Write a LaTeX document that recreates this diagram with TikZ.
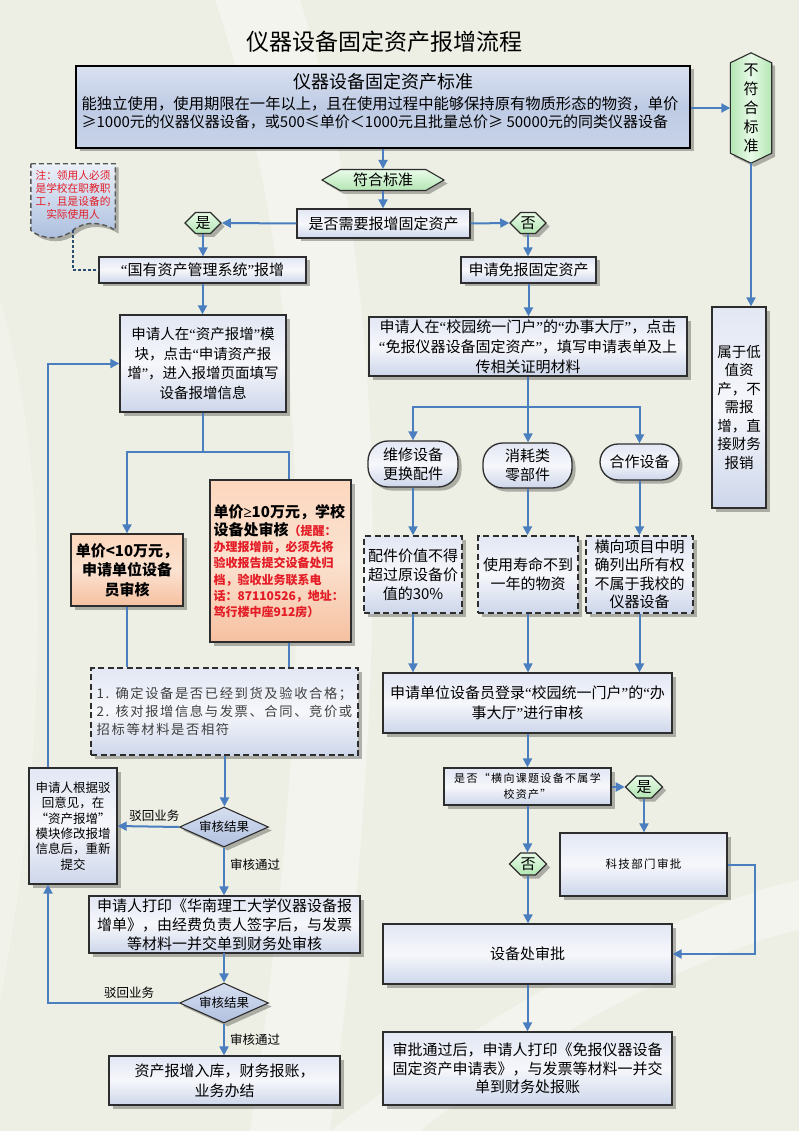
\documentclass[tikz,border=0pt]{standalone}
\usepackage{fontspec}
\setmainfont{Noto Sans CJK SC}
\newfontfamily\spfont{Noto Sans CJK SC}[LetterSpace=12]
\newfontfamily\lat{Liberation Serif}
\newcommand{\zqo}{{\lat “}}
\newcommand{\zqc}{{\lat ”}}
\usetikzlibrary{shapes.geometric,shapes.symbols,shadows,arrows.meta,calc}
\newcommand{\setfs}[2]{\fontsize{#1}{#2}\selectfont}
\pgfdeclarelayer{back}
\pgfdeclarelayer{shapes}
\pgfsetlayers{back,shapes,main}
\definecolor{bg}{RGB}{237,239,228}
\definecolor{boxtop}{RGB}{226,231,244}
\definecolor{boxmid}{RGB}{246,247,251}
\definecolor{boxbot}{RGB}{205,214,234}
\definecolor{boxborder}{RGB}{45,45,45}
\definecolor{flowc}{RGB}{74,126,190}
\definecolor{greentop}{RGB}{232,250,232}
\definecolor{greenbot}{RGB}{180,230,180}
\definecolor{orgtop}{RGB}{252,215,190}
\definecolor{orgmid}{RGB}{251,226,208}
\definecolor{orgbot}{RGB}{246,192,160}
\definecolor{redtxt}{RGB}{228,28,38}
\definecolor{stdtop}{RGB}{218,226,241}
\definecolor{stdmid}{RGB}{190,203,228}
\definecolor{stdbot}{RGB}{200,211,233}
\definecolor{diatop}{RGB}{215,223,240}
\definecolor{diabot}{RGB}{176,192,224}
\definecolor{notetop}{RGB}{235,240,248}
\definecolor{notebot}{RGB}{170,190,222}
\tikzset{
 shd/.style={drop shadow={shadow xshift=3.5pt, shadow yshift=-3.5pt, opacity=0.28, fill=black}},
 bx/.style={draw=boxborder, line width=1.3pt, top color=boxtop, bottom color=boxbot, middle color=boxmid, shd, inner sep=0pt, align=center, font=\setfs{15}{19.5}},
 dbx/.style={bx, dash pattern=on 6pt off 3.5pt, line width=1.5pt},
 obx/.style={bx, top color=orgtop, bottom color=orgbot, middle color=orgmid},
 ovl/.style={bx, rounded corners=20pt},
 hexh/.style={shape=signal, signal to=west and east, signal pointer angle=90, draw=boxborder, line width=1.1pt, top color=greentop, bottom color=greenbot, shd, inner sep=0pt, font=\setfs{15}{18}},
 hexframe/.style={draw=boxborder, line width=1.1pt, left color=greenbot, right color=greenbot, middle color=greentop, shd},
 dia/.style={shape=diamond, aspect=2.2, draw=boxborder, line width=1.1pt, top color=diatop, bottom color=diabot, shd, inner sep=0pt, minimum width=89pt, minimum height=40pt, font=\setfs{12.5}{14}},
 flow/.style={draw=flowc, line width=2pt, -{Triangle[length=9pt,width=9pt]}},
 plain/.style={draw=flowc, line width=2pt},
 notelink/.style={draw=flowc!60!black, line width=1.5pt, dash pattern=on 3pt off 2pt},
 lbl/.style={inner sep=0pt, font=\setfs{12.5}{14}},
 txt/.style={inner sep=0pt, align=center},
}
\begin{document}
\begin{tikzpicture}[x=1pt,y=-1pt]
\useasboundingbox (0,0) rectangle (799,1131);
\begin{pgfonlayer}{back}
\fill[bg] (0,0) rectangle (799,1131);
\fill[white, opacity=0.35] (215,0) .. controls (300,250) and (330,600) .. (250,1131) -- (330,1131) .. controls (400,600) and (380,250) .. (300,0) -- cycle;
\fill[white, opacity=0.35] (330,1131) .. controls (500,1000) and (700,900) .. (799,880) -- (799,930) .. controls (700,950) and (520,1050) .. (420,1131) -- cycle;
\fill[white, opacity=0.25] (0,300) .. controls (60,500) and (40,800) .. (0,1000) -- cycle;
\end{pgfonlayer}

% title
\node[txt, font=\setfs{23}{27}] (title) at (384,42) {仪器设备固定资产报增流程};

% standard box
\node[bx, draw=black, line width=2.5pt, top color=stdtop, bottom color=stdbot, middle color=stdmid, minimum width=614pt, minimum height=82pt] (std) at (383,107) {};
\node[txt, font=\setfs{18}{22}] (stdhead) at (383,82) {仪器设备固定资产标准};
\node[txt, align=left, font=\setfs{15.3}{18.5}] (stdbody) at (380,113) {能独立使用，使用期限在一年以上，且在使用过程中能够保持原有物质形态的物资，单价\\{\setfs{15}{18.5}≥1000元的仪器仪器设备，或500≤单价＜1000元且批量总价≥ 50000元的同类仪器设备}};

% not meeting standard (vertical hexagon)
\node[txt, minimum width=41pt, minimum height=110pt, font=\setfs{15}{19}] (nomeet) at (751,108) {不\\符\\合\\标\\准};
\begin{pgfonlayer}{shapes}
\path[hexframe] (nomeet.north) -- ([yshift=-10pt]nomeet.north east) -- ([yshift=10pt]nomeet.south east) -- (nomeet.south) -- ([yshift=10pt]nomeet.south west) -- ([yshift=-10pt]nomeet.north west) -- cycle;
\end{pgfonlayer}
\node[bx, minimum width=54pt, minimum height=201pt, font=\setfs{14.5}{18.5}] (lowval) at (739,407.5) {属于低\\值资\\产，不\\需报\\增，直\\接财务\\报销};

% meet standard
\node[hexh, signal pointer angle=60, minimum width=122pt, minimum height=21pt] (meet) at (383,180) {符合标准};
\node[bx, minimum width=173pt, minimum height=29pt] (need) at (383.5,223.5) {是否需要报增固定资产};
\node[hexh, minimum width=34pt, minimum height=21pt] (yes1) at (203,223) {是};
\node[hexh, minimum width=33pt, minimum height=21pt] (no1) at (528,223) {否};

% note
\node[txt, minimum width=84pt, minimum height=62pt, text=redtxt, font=\setfs{10.7}{12.8}] (note) at (73,195) {注：领用人必须\\是学校在职教职\\工，且是设备的\\实际使用人};
\begin{pgfonlayer}{shapes}
\path[draw=boxborder!80, line width=1.4pt, dash pattern=on 5pt off 3pt, top color=notetop, bottom color=notebot, shd]
  (note.north west) -- (note.north east) -- ($(note.south east)+(0,4)$)
  .. controls ($(note.south east)+(-12,-4)$) and ($(note.south east)+(-30,-6)$) .. ($(note.south)+(0,4)$)
  .. controls ($(note.south)+(-11,14)$) and ($(note.south)+(-31,14)$) .. ($(note.south west)+(0,4)$) -- cycle;
\end{pgfonlayer}

% left branch
\node[bx, minimum width=207pt, minimum height=26pt] (guoyou) at (202.5,270) {\zqo 国有资产管理系统\zqc 报增};
\node[bx, minimum width=166pt, minimum height=97pt, font=\setfs{14.5}{19.5}] (left1) at (203,363.5) {申请人在\zqo 资产报增\zqc 模\\块，点击\zqo 申请资产报\\增\zqc ，进入报增页面填写\\设备报增信息};
\node[obx, minimum width=112pt, minimum height=72pt, font=\bfseries\setfs{15}{19.5}] (orange1) at (127,570) {单价<10万元，\\申请单位设备\\员审核};
\node[obx, minimum width=141pt, minimum height=162pt] (orange2) at (280.5,561) {};
\node[txt, align=left, text width=137pt, font=\bfseries\setfs{12}{16.3}] (orange2txt) at (282,561.5) {{\setfs{15}{19}单价{\lat ≥}10万元，学校}\\[1pt]{\setfs{15}{19}设备处审核}{\color{redtxt}（提醒：\\办理报增前，必须先将\\验收报告提交设备处归\\档，验收业务联系电\\话：87110526，地址：\\笃行楼中座912房）}};
\node[dbx, minimum width=267pt, minimum height=87pt, align=left, text=black!75, font=\spfont\setfs{13.3}{18}] (check) at (224.5,711.5) {1. 确定设备是否已经到货及验收合格；\\2. 核对报增信息与发票、合同、竞价或\\招标等材料是否相符\hspace*{98pt}};
\node[dia] (dia1) at (224,827) {审核结果};
\node[bx, minimum width=88pt, minimum height=116pt, font=\setfs{12.5}{15.4}] (resub) at (73,826) {申请人根据驳\\回意见，在\\“资产报增”\\模块修改报增\\信息后，重新\\提交};
\node[bx, minimum width=271pt, minimum height=57pt, font=\setfs{15}{18.8}] (print) at (224.5,924.5) {申请人打印《华南理工大学仪器设备报\\增单》，由经费负责人签字后，与发票\\等材料一并交单到财务处审核};
\node[dia] (dia2) at (224,1003) {审核结果};
\node[bx, minimum width=231pt, minimum height=49pt, font=\setfs{15}{20}] (final1) at (224.5,1080.5) {资产报增入库，财务报账，\\业务办结};

% right branch
\node[bx, minimum width=135pt, minimum height=26pt] (mianbao) at (528.5,270) {申请免报固定资产};
\node[bx, minimum width=318pt, minimum height=59pt, font=\setfs{15}{20}] (xiaoyuan) at (528,346.5) {申请人在\zqo 校园统一门户\zqc 的\zqo 办事大厅\zqc ，点击\\\zqo 免报仪器设备固定资产\zqc ，填写申请表单及上\\传相关证明材料};
\node[ovl, minimum width=90pt, minimum height=46pt, font=\setfs{15}{19}] (e1) at (413,464) {维修设备\\更换配件};
\node[ovl, minimum width=89pt, minimum height=45pt, font=\setfs{15}{19}] (e2) at (527.5,465.5) {消耗类\\零部件};
\node[ovl, rounded corners=18pt, minimum width=79pt, minimum height=36pt] (e3) at (639.5,462) {合作设备};
\node[dbx, minimum width=98pt, minimum height=77pt, font=\setfs{15}{19}] (d1) at (413,574.5) {配件价值不得\\超过原设备价\\值的30\%};
\node[dbx, minimum width=100pt, minimum height=77pt, font=\setfs{15}{19}] (d2) at (528,574.5) {使用寿命不到\\一年的物资};
\node[dbx, minimum width=107pt, minimum height=77pt, font=\setfs{15}{18.5}] (d3) at (639.5,574.5) {横向项目中明\\确列出所有权\\不属于我校的\\仪器设备};
\node[bx, minimum width=289pt, minimum height=60pt, font=\setfs{15}{19.5}] (login) at (527.5,703) {申请单位设备员登录\zqo 校园统一门户\zqc 的\zqo 办\\事大厅\zqc 进行审核};
\node[bx, minimum width=167pt, minimum height=37pt, font=\spfont\setfs{11}{16}] (hx) at (527.5,786.5) {是否“横向课题设备不属学\\校资产”};
\node[hexh, minimum width=32pt, minimum height=22pt] (yes2) at (644,787) {是};
\node[bx, minimum width=167pt, minimum height=63pt, font=\spfont\setfs{11.5}{14}] (keji) at (643.5,864.5) {科技部门审批};
\node[hexh, minimum width=33pt, minimum height=22pt] (no2) at (528,864) {否};
\node[bx, minimum width=289pt, minimum height=60pt, font=\setfs{15}{19}] (sbc) at (527.5,954) {设备处审批};
\node[bx, minimum width=289pt, minimum height=73pt, font=\setfs{15}{18.7}] (final2) at (527.5,1068.5) {审批通过后，申请人打印《免报仪器设备\\固定资产申请表》，与发票等材料一并交\\单到财务处报账};

% coordinates
\coordinate (split1) at (203,452);
\coordinate (split2) at (528,407);

% connectors top
\draw[flow] (std.east |- nomeet.west) -- (nomeet.west);
\draw[flow] (nomeet.south) -- (nomeet.south |- lowval.north);
\draw[flow] (std.south) -- (meet.north);
\draw[flow] (meet.south) -- (meet.south |- need.north);
\draw[flow] (need.west) -- (yes1.east);
\draw[flow] (need.east) -- (no1.west);
\draw[flow] (yes1.south) -- (yes1.south |- guoyou.north);
\draw[flow] (no1.south) -- (no1.south |- mianbao.north);
\draw[notelink] ($(note.south)+(0,4)$) |- (guoyou.west);

% left connectors
\draw[flow] (guoyou.south) -- (guoyou.south |- left1.north);
\draw[plain] (left1.south) -- (split1);
\draw[flow] (split1) -| (orange1.north);
\draw[plain] (split1) -| ([xshift=8.5pt]orange2.north);
\draw[plain] (orange1.south) -- (orange1.south |- check.north);
\draw[plain] ([xshift=8.5pt]orange2.south) -- ([xshift=8.5pt]orange2.south |- check.north);
\draw[flow] (check.south) -- (check.south |- dia1.north);
\draw[flow] (dia1.west) -- (resub.east) node[lbl, pos=0.4, above=4pt] {驳回业务};
\draw[flow] (dia1.south) -- (dia1.south |- print.north) node[lbl, pos=0.35, right=5pt] {审核通过};
\draw[flow] (print.south) -- (print.south -| dia2.north) -- (dia2.north);
\draw[flow] (dia2.west) -| ([xshift=-25pt]resub.south) node[lbl, pos=0.19, above=4pt] {驳回业务};
\draw[flow] (dia2.south) -- (dia2.south |- final1.north) node[lbl, pos=0.5, right=5pt] {审核通过};
\draw[flow] ([xshift=-25pt]resub.north) |- (left1.west);

% right connectors
\draw[flow] (mianbao.south) -- (mianbao.south |- xiaoyuan.north);
\draw[plain] (xiaoyuan.south) -- (split2);
\draw[flow] (split2) -| (e1.north);
\draw[flow] (split2) -| (e3.north);
\draw[flow] (split2) -- (split2 |- e2.north);
\draw[flow] (e1.south) -- (e1.south |- d1.north);
\draw[flow] (e2.south) -- (e2.south |- d2.north);
\draw[flow] (e3.south) -- (e3.south |- d3.north);
\draw[flow] (d1.south) -- (d1.south |- login.north);
\draw[flow] (d2.south) -- (d2.south |- login.north);
\draw[flow] (d3.south) -- (d3.south |- login.north);
\draw[flow] (login.south) -- (login.south |- hx.north);
\draw[flow] (hx.east |- yes2.west) -- (yes2.west);
\draw[flow] (yes2.south) -- (yes2.south |- keji.north);
\draw[flow] (hx.south) -- (hx.south |- no2.north);
\draw[flow] (no2.south) -- (no2.south |- sbc.north);
\draw[flow] (keji.east) -- ++(27,0) |- (sbc.east);
\draw[flow] (sbc.south) -- (sbc.south |- final2.north);
\end{tikzpicture}
\end{document}
